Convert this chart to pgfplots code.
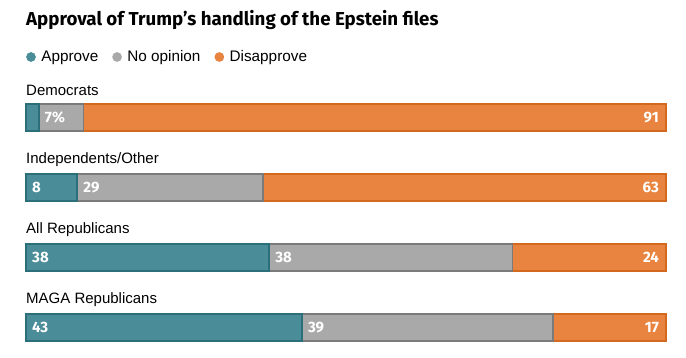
\documentclass[border=0pt]{standalone}
\usepackage{fontspec}
\setmainfont{Liberation Sans}
\newfontfamily\titlefont{Fira Sans}
\usepackage{pgfplots}
\usepackage{pgfplotstable}
\pgfplotsset{compat=1.18}
\definecolor{appr}{HTML}{4A8C98}
\definecolor{apprD}{HTML}{2B6F7B}
\definecolor{noop}{HTML}{A9A9A9}
\definecolor{noopD}{HTML}{7A7A7A}
\definecolor{disa}{HTML}{E8843F}
\definecolor{disaD}{HTML}{D2691E}

\pgfplotstableread{
y a b c xa xb xc la lb lc
117.5 2 7 91 0 2 100 {} {7\%} 91
187.5 8 29 63 0 8 100 8 29 63
257.5 38 38 24 0 38 100 38 38 24
327.5 43.1 39.2 17.7 0 43.1 100 43 39 17
}\datatable

\pgfplotsset{base/.style={
  scale only axis, width=640pt, height=358pt,
  xmin=0, xmax=100, ymin=0, ymax=358, y dir=reverse,
  hide axis, clip=false, at={(26pt,0pt)}, anchor=south west}}

\begin{document}
\begin{tikzpicture}
\path[use as bounding box] (0,0) rectangle (686pt,358pt);
\begin{axis}[base, xbar stacked, bar width=27.5,
  legend style={draw=none, fill=none, at={(axis cs:0,57)}, anchor=west,
    legend columns=-1, font=\fontsize{15.3}{17}\selectfont, inner sep=0pt,
    nodes={inner sep=0pt},
    /tikz/every odd column/.append style={column sep=5.5pt},
    /tikz/every even column/.append style={column sep=14pt}},
  ]
\addplot[fill=appr, draw=apprD, line width=1.6pt,
  legend image code/.code={\fill[appr] (0pt,0pt) circle (4pt);}]
  table[x=a, y=y] {\datatable};
\addlegendentry{Approve}
\addplot[fill=noop, draw=noopD, line width=1.6pt,
  legend image code/.code={\fill[noop] (0pt,0pt) circle (4pt);}]
  table[x=b, y=y] {\datatable};
\addlegendentry{No opinion}
\addplot[fill=disa, draw=disaD, line width=1.6pt,
  legend image code/.code={\fill[disa] (0pt,0pt) circle (4pt);}]
  table[x=c, y=y] {\datatable};
\addlegendentry{Disapprove}
\node[anchor=west, inner sep=0pt, font=\titlefont\bfseries\fontsize{18.7}{20}\selectfont] at (axis cs:0,20) {Approval of Trump’s handling of the Epstein files};
\node[anchor=west, inner sep=0pt, font=\fontsize{15}{17}\selectfont] at (axis cs:0,90) {Democrats};
\node[anchor=west, inner sep=0pt, font=\fontsize{15}{17}\selectfont] at (axis cs:0,160) {Independents/Other};
\node[anchor=west, inner sep=0pt, font=\fontsize{15}{17}\selectfont] at (axis cs:0,230) {All Republicans};
\node[anchor=west, inner sep=0pt, font=\fontsize{15}{17}\selectfont] at (axis cs:0,300) {MAGA Republicans};
\end{axis}
\begin{axis}[base,
  nodes near coords, point meta=explicit symbolic,
  every node near coord/.append style={text=white, inner sep=0pt,
    font=\titlefont\bfseries\fontsize{15}{16}\selectfont}]
\addplot[draw=none, mark=none,
  every node near coord/.append style={anchor=west, xshift=6pt}]
  table[x=xa, y=y, meta=la] {\datatable};
\addplot[draw=none, mark=none,
  every node near coord/.append style={anchor=west, xshift=6pt}]
  table[x=xb, y=y, meta=lb] {\datatable};
\addplot[draw=none, mark=none,
  every node near coord/.append style={anchor=east, xshift=-7pt}]
  table[x=xc, y=y, meta=lc] {\datatable};
\end{axis}
\end{tikzpicture}
\end{document}
